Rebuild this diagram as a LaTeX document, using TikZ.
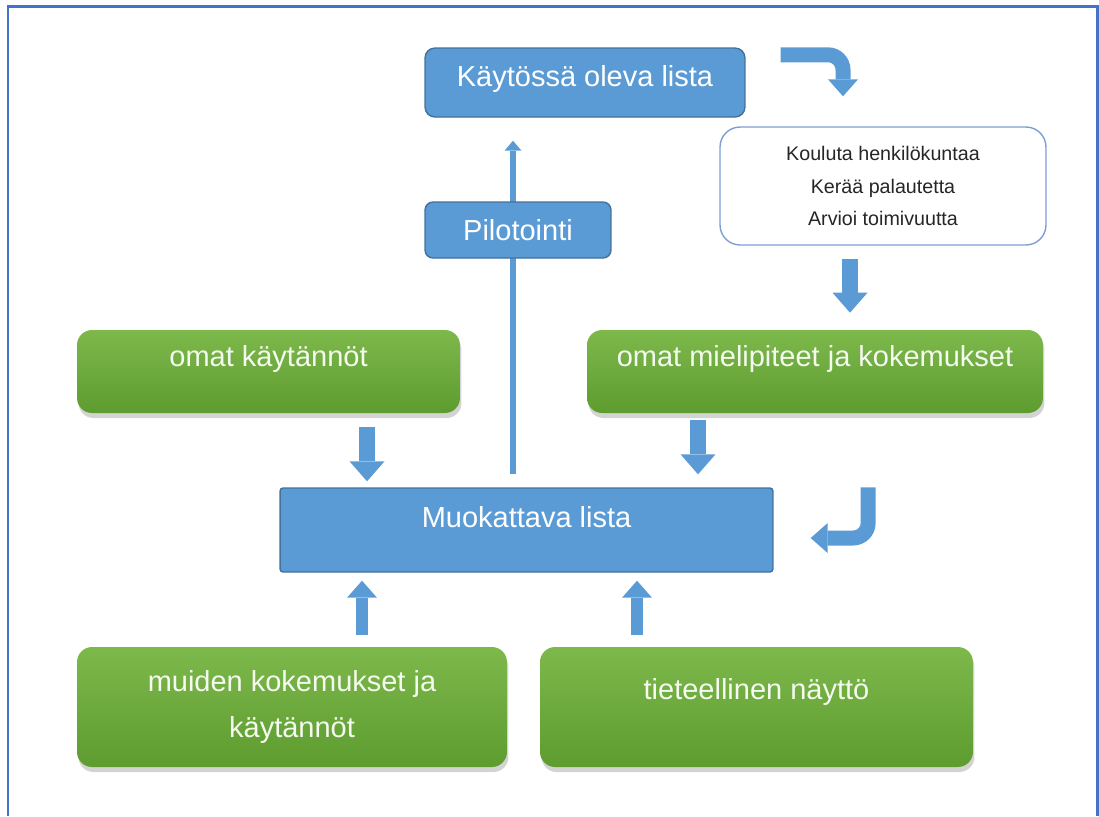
\documentclass[tikz,border=0pt]{standalone}
\usepackage{fontspec}
\setmainfont{Liberation Sans}
\usetikzlibrary{positioning, calc, arrows.meta, shadows}

\definecolor{boxblue}{HTML}{5B9BD5}
\definecolor{boxblueline}{HTML}{41719C}
\definecolor{greentop}{HTML}{7DB84B}
\definecolor{greenbottom}{HTML}{5E9C30}
\definecolor{framecol}{HTML}{4472C4}
\definecolor{listline}{HTML}{7F9ED6}
\definecolor{greentext}{HTML}{F4FAEF}

\begin{document}
\begin{tikzpicture}[x=0.02cm, y=-0.02cm]
    % Define block styles
    \tikzstyle{bluebox} = [rectangle, draw=boxblueline, line width=0.8pt, fill=boxblue, text=white, font=\fontsize{16.5}{20}\selectfont]
    \tikzstyle{greenbox} = [rectangle, rounded corners=0.3cm, top color=greentop, bottom color=greenbottom, text=greentext, font=\fontsize{16.5}{26.7}\selectfont, drop shadow={shadow xshift=0.03cm, shadow yshift=-0.1cm, opacity=0.35}]
    \tikzstyle{downarrow} = [draw=boxblue, line width=0.32cm, -{Triangle[width=0.7cm, length=0.4cm, line width=0pt]}]
    \tikzstyle{uparrow} = [draw=boxblue, line width=0.24cm, -{Triangle[width=0.6cm, length=0.34cm, line width=0pt]}]
    \tikzstyle{bentarrow} = [draw=boxblue, line width=0.3cm, rounded corners=0.3cm, -{Triangle[width=0.6cm, length=0.34cm, line width=0pt]}]
    \tikzstyle{thinarrow} = [draw=boxblue, line width=0.12cm, -{Triangle[width=0.34cm, length=0.2cm, line width=0pt]}]

    \useasboundingbox (0,0) rectangle (1099,816);
    \draw [framecol, line width=0.06cm] (8,816) -- (8,6) -- (1097,6) -- (1097,816);

    % Place nodes
    \node [bluebox, rounded corners=0.2cm, minimum width=6.4cm, minimum height=1.38cm, text height=0.44cm, text depth=0.3cm] (kaytossa) at (585,82.5) {Käytössä oleva lista};
    \node [draw=listline, line width=0.8pt, rounded corners=0.4cm, fill=white, minimum width=6.52cm, minimum height=2.36cm, align=center, text=black!85, font=\fontsize{11.2}{18.5}\selectfont] (koulutus) at (883,186) {Kouluta henkilökuntaa\\Kerää palautetta\\Arvioi toimivuutta};
    \node [greenbox, minimum width=7.66cm, minimum height=1.66cm, text height=0.44cm, text depth=0.63cm] (omatkay) at (268.5,371.5) {omat käytännöt};
    \node [greenbox, minimum width=9.12cm, minimum height=1.66cm, text height=0.44cm, text depth=0.63cm] (mielipiteet) at (815,371.5) {omat mielipiteet ja kokemukset};
    \node [bluebox, rounded corners=0.06cm, minimum width=9.86cm, minimum height=1.68cm, text height=0.44cm, text depth=0.55cm] (muokattava) at (526.5,530) {Muokattava lista};
    \node [greenbox, minimum width=8.6cm, minimum height=2.4cm, align=center] (muiden) at (292,707) {muiden kokemukset ja\\käytännöt};
    \node [greenbox, minimum width=8.66cm, minimum height=2.4cm, text height=0.44cm, text depth=0.75cm] (naytto) at (756.5,707) {tieteellinen näyttö};

    % Thin arrow behind the pilot box
    \draw [thinarrow, shorten <=0.26cm, shorten >=0.46cm] (muokattava.north -| 513,0) -- (kaytossa.south -| 513,0);
    \node [bluebox, rounded corners=0.16cm, minimum width=3.72cm, minimum height=1.12cm] (pilotointi) at (518,230) {Pilotointi};

    % Draw block arrows
    \draw [bentarrow, shorten >=0.6cm] ($(kaytossa.north east)+(35,7.5)$) -| (koulutus.north -| 843,0);
    \draw [downarrow, shorten <=0.26cm, shorten >=0.34cm] (koulutus.south -| 850,0) -- (mielipiteet.north -| 850,0);
    \draw [downarrow, shorten <=0.28cm, shorten >=0.12cm] (omatkay.south -| 367,0) -- (muokattava.north -| 367,0);
    \draw [downarrow, shorten <=0.14cm, shorten >=0.26cm] (mielipiteet.south -| 698,0) -- (muokattava.north -| 698,0);
    \draw [bentarrow, shorten >=0.74cm] ($(muokattava.north east)+(94.5,0)$) |- ($(muokattava.east)+(0,8)$);
    \draw [uparrow, shorten <=0.24cm, shorten >=0.16cm] (muiden.north -| 362,0) -- (muokattava.south -| 362,0);
    \draw [uparrow, shorten <=0.24cm, shorten >=0.16cm] (naytto.north -| 637,0) -- (muokattava.south -| 637,0);
\end{tikzpicture}
\end{document}
